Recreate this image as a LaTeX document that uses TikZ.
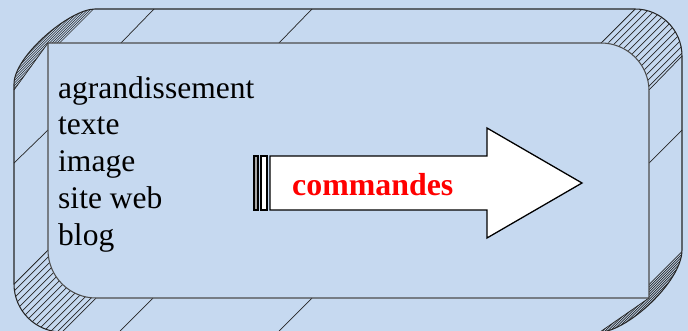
\documentclass[tikz,border=0pt]{standalone}
\usepackage{fontspec}
\setmainfont{Liberation Serif}
\usepackage{xcolor}
\usetikzlibrary{positioning}
\definecolor{fond}{RGB}{198,217,240}
\tikzset{lbl/.style={anchor=base west,inner sep=0pt,font=\fontsize{26.9}{31}\selectfont},
  cmd/.style={anchor=base west,inner sep=0pt,text=red,font=\fontsize{27.2}{31}\selectfont\bfseries},
  bord/.style={draw=black!85,line width=0.9pt},
  hach/.style={draw=black!85,line width=0.6pt},
  fleche/.style={draw=black,line width=1.1pt,fill=white}}

\begin{document}
\begin{tikzpicture}[x=0.03cm,y=-0.03cm]
    \fill[fond] (0,0) rectangle (688,331);
    \useasboundingbox (0,0) rectangle (688,331);

    % coins hachures
    \begin{scope}
        \clip (601,43) -- (635,9) arc[start angle=-90,end angle=0,radius=47] -- (649,90) arc[start angle=0,end angle=-90,radius=48] -- cycle;
        \foreach \i in {644,651,...,740} \draw[hach] (\i,0) -- ++(-400,400);
    \end{scope}
    \begin{scope}
        \clip (48,250) arc[start angle=180,end angle=90,radius=48] -- (62,332) arc[start angle=90,end angle=180,radius=48] -- cycle;
        \foreach \i in {298,305,...,400} \draw[hach] (\i,0) -- ++(-400,400);
    \end{scope}
    \begin{scope}
        \clip (14,90) -- (14,84) .. controls (14,56) and (70,9) .. (95,9) -- (61,43) -- (48,43) -- cycle;
        \foreach \i in {70,72.5,...,110} \draw[hach] (\i,0) -- ++(-400,400);
    \end{scope}
    \begin{scope}
        \clip (649,284) -- (682,250) .. controls (682,282) and (626,332) .. (600,332) -- (649,298) -- cycle;
        \foreach \i in {926,928.5,...,980} \draw[hach] (\i,0) -- ++(-400,400);
    \end{scope}
    \draw[hach] (601,43) -- (635,9);
    \draw[hach] (649,90) -- (682,56);
    \draw[hach] (48,250) -- (14,284);
    \draw[hach] (96,298) -- (62,332);
    \draw[hach] (14,90) -- (48,43);
    \draw[hach] (649,298) -- (600,332);

    % aretes
    \draw[hach] (121,43) -- (154,9);
    \draw[hach] (279,43) -- (312,9);
    \draw[hach] (48,130) -- (14,163);
    \draw[hach] (649,163) -- (682,130);
    \draw[hach] (153,298) -- (120,331);
    \draw[hach] (312,298) -- (279,331);

    % cadre
    \draw[bord] (95,9) -- (635,9) arc[start angle=-90,end angle=0,radius=47] -- (682,250) .. controls (682,282) and (626,332) .. (600,332) -- (62,332) arc[start angle=90,end angle=180,radius=48] -- (14,84) .. controls (14,56) and (70,9) .. (95,9) -- cycle;
    \draw[bord,draw=black!70] (48,43) -- (601,43) arc[start angle=-90,end angle=0,radius=48] -- (649,298) -- (96,298) arc[start angle=90,end angle=180,radius=48] -- cycle;

    \node[lbl] (agr)at (58,98) {agrandissement};
    \node[lbl] (txt)at (58,134.5) {texte};
    \node[lbl] (img)at (58,171) {image};
    \node[lbl] (web)at (58,208) {site web};
    \node[lbl] (blg)at (58,245) {blog};

    % fleche
    \draw[fleche,line width=0.9pt,fill=black!35] (254,156) rectangle (258,210);
    \draw[fleche,line width=0.9pt] (261,156) rectangle (267,210);
    \draw[fleche] (270,156) -- (487,156) -- (487,128) -- (582,183) -- (487,238) -- (487,210) -- (270,210) -- cycle;
    \node[cmd] (cmd)at (292,195) {commandes};
\end{tikzpicture}
\end{document}
